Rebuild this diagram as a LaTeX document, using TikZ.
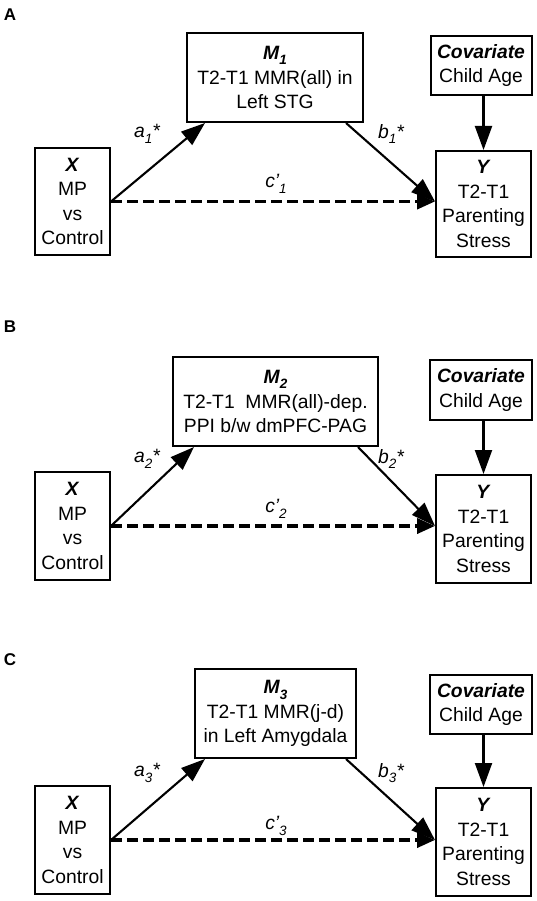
\documentclass[tikz,border=0pt]{standalone}
\usepackage{fontspec}
\setmainfont{Liberation Sans}
\usetikzlibrary{arrows.meta,calc}
\newcommand{\mysub}[1]{\raisebox{-0.28em}{\fontsize{13.5}{14}\selectfont #1}}
\begin{document}
\begin{tikzpicture}[x=1pt,y=-1pt,
 box/.style={draw,line width=2pt,align=center,inner sep=0pt,font=\fontsize{19.3}{24.5}\selectfont},
 arr/.style={line width=2.1pt,-{Triangle[length=24pt,width=17pt]}},
 dasharr/.style={line width=3.8pt,dash pattern=on 11pt off 5pt,-{Triangle[length=18pt,width=15pt]}},
 lab/.style={font=\fontsize{19.3}{22}\selectfont\itshape,inner sep=0pt},
 panel/.style={font=\fontsize{17}{17}\selectfont\bfseries,inner sep=0pt}]
\useasboundingbox (0,0) rectangle (536,901);

% ---------------- Panel A ----------------
\node[panel] (pa) at (10,15) {A};
\node[box,minimum width=75pt,minimum height=107pt] (xa) at (72.5,201.5) {\textbf{\textit{X}}\\MP\\vs\\Control};
\node[box,minimum width=95pt,minimum height=106pt] (ya) at (483.5,204) {\textbf{\textit{Y}}\\T2-T1\\Parenting\\Stress};
\node[box,minimum width=176pt,minimum height=89pt] (ma) at (275,77.5) {\textbf{\textit{M\mysub{1}}}\\T2-T1 MMR(all) in\\Left STG};
\node[box,minimum width=101pt,minimum height=59pt] (ca) at (481,65.5) {\textbf{\textit{Covariate}}\\Child Age};
\draw[arr] (xa.east) -- ($(ma.south west)+(19,0)$);
\draw[arr] ($(ma.south east)+(-18,0)$) -- (xa.east -| ya.west);
\draw[dasharr] (xa.east) -- (xa.east -| ya.west);
\draw[arr] (ya.north |- ca.south) -- (ya.north);
\node[lab] (laa) at (147,134) {a\mysub{1}*};
\node[lab] (lba) at (391,134) {b\mysub{1}*};
\node[lab] (lca) at (276,184) {c’\mysub{1}};

% ---------------- Panel B ----------------
\node[panel] (pb) at (10,327) {B};
\node[box,minimum width=75pt,minimum height=108pt] (xb) at (72.5,526) {\textbf{\textit{X}}\\MP\\vs\\Control};
\node[box,minimum width=95pt,minimum height=108pt] (yb) at (483.5,529) {\textbf{\textit{Y}}\\T2-T1\\Parenting\\Stress};
\node[box,minimum width=205pt,minimum height=89pt] (mb) at (275.5,401.5) {\textbf{\textit{M\mysub{2}}}\\T2-T1\ \ MMR(all)-dep.\\PPI b/w dmPFC-PAG};
\node[box,minimum width=102pt,minimum height=60pt] (cb) at (481,390) {\textbf{\textit{Covariate}}\\Child Age};
\draw[arr] (xb.east) -- ($(mb.south west)+(22,0)$);
\draw[arr] ($(mb.south east)+(-21,0)$) -- (xb.east -| yb.west);
\draw[dasharr] (xb.east) -- (xb.east -| yb.west);
\draw[arr] (yb.north |- cb.south) -- (yb.north);
\node[lab] (lab) at (147,459) {a\mysub{2}*};
\node[lab] (lbb) at (391,459) {b\mysub{2}*};
\node[lab] (lcb) at (276,509) {c’\mysub{2}};

% ---------------- Panel C ----------------
\node[panel] (pc) at (10,660) {C};
\node[box,minimum width=75pt,minimum height=108pt] (xc) at (72.5,840) {\textbf{\textit{X}}\\MP\\vs\\Control};
\node[box,minimum width=95pt,minimum height=108pt] (yc) at (483.5,842) {\textbf{\textit{Y}}\\T2-T1\\Parenting\\Stress};
\node[box,minimum width=161pt,minimum height=89pt] (mc) at (275.5,713.5) {\textbf{\textit{M\mysub{3}}}\\T2-T1 MMR(j-d)\\in Left Amygdala};
\node[box,minimum width=102pt,minimum height=59pt] (cc) at (481,704.5) {\textbf{\textit{Covariate}}\\Child Age};
\draw[arr] (xc.east) -- ($(mc.south west)+(11,0)$);
\draw[arr] ($(mc.south east)+(-11,0)$) -- (xc.east -| yc.west);
\draw[dasharr] (xc.east) -- (xc.east -| yc.west);
\draw[arr] (yc.north |- cc.south) -- (yc.north);
\node[lab] (lac) at (147,773) {a\mysub{3}*};
\node[lab] (lbc) at (391,773) {b\mysub{3}*};
\node[lab] (lcc) at (276,826) {c’\mysub{3}};
\end{tikzpicture}
\end{document}
